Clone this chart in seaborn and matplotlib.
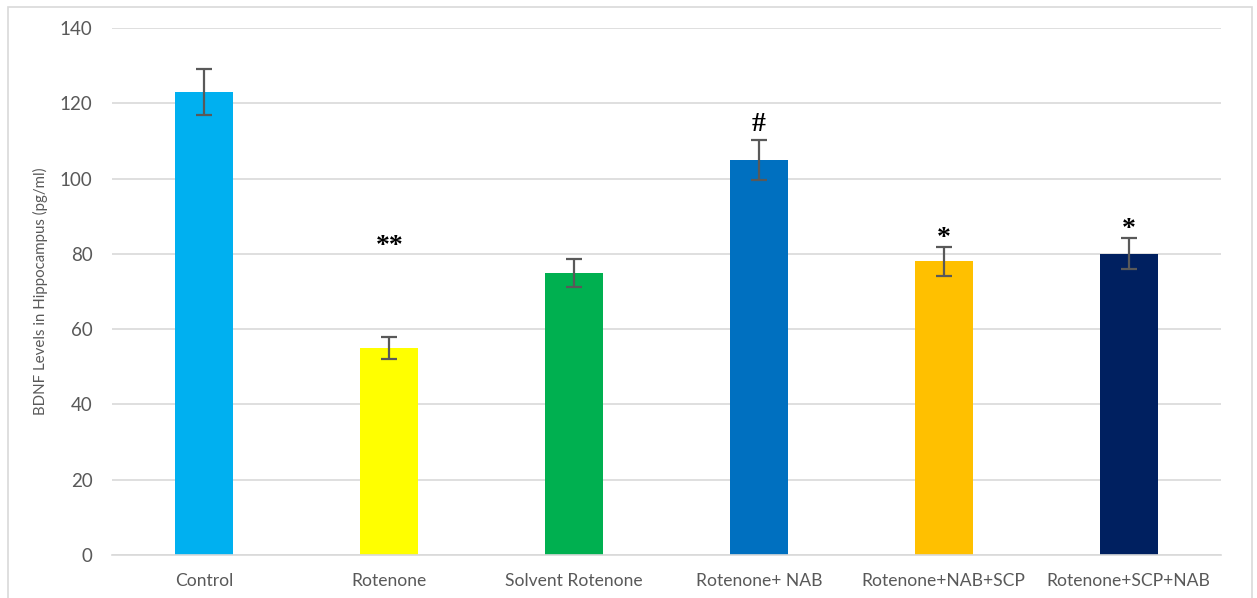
import matplotlib
matplotlib.use("Agg")
import matplotlib.pyplot as plt
import seaborn as sns
import pandas as pd
from matplotlib.patches import Rectangle

categories = ["Control", "Rotenone", "Solvent Rotenone", "Rotenone+ NAB",
              "Rotenone+NAB+SCP", "Rotenone+SCP+NAB"]
values = [123, 55, 75, 105, 78, 80]
errors = [6.1, 2.8, 3.7, 5.3, 3.9, 4.1]
colors = ["#00B0F0", "#FFFF00", "#00B050", "#0070C0", "#FFC000", "#002060"]
marks = ["", "**", "", "#", "*", "*"]
mark_y = [0, 80.2, 0, 112.6, 82.4, 84.7]
yticks = [0, 20, 40, 60, 80, 100, 120, 140]

sns.set_theme(style="white")
plt.rcParams['font.family'] = ['Lato', 'DejaVu Sans']

fig = plt.figure(figsize=(12.57, 5.98), dpi=100)
ax = fig.add_axes([112/1257, 1-555/598, (1221-112)/1257, (555-28)/598])

df = pd.DataFrame({"cat": categories, "val": values})
sns.barplot(data=df, x="cat", y="val", hue="cat", palette=colors,
            width=0.314, legend=False, ax=ax, saturation=1, errorbar=None,
            linewidth=0)

ax.errorbar(range(len(categories)), values, yerr=errors, fmt="none",
            ecolor="#595959", elinewidth=1.6, capsize=6, capthick=1.6, zorder=5)

for i, (m, y) in enumerate(zip(marks, mark_y)):
    if m:
        ax.text(i, y, m, ha="center", va="baseline", fontsize=20,
                family="Liberation Serif", fontweight="bold", color="black")

ax.set_ylim(0, 140)
ax.set_xlim(-0.5, len(categories) - 0.5)
ax.set_yticks(yticks)
ax.yaxis.grid(True, color="#D9D9D9", linewidth=1.2)
ax.set_axisbelow(True)
for s in ["top", "right", "left"]:
    ax.spines[s].set_visible(False)
ax.spines["bottom"].set_color("#D9D9D9")
ax.spines["bottom"].set_linewidth(1.2)
ax.tick_params(axis="y", length=0, pad=14, labelsize=13.5, labelcolor="#595959")
ax.tick_params(axis="x", length=0, pad=13, labelsize=12.6, labelcolor="#595959")
ax.set_xlabel("")
ax.set_ylabel("BDNF Levels in Hippocampus (pg/ml)", fontsize=10.8, color="#595959")
ax.yaxis.set_label_coords(-0.0577, 0.5)

fig.patches.append(Rectangle((8/1257, -0.1), (1252-8)/1257, 1.1 - 7/598,
                             transform=fig.transFigure, fill=False,
                             edgecolor="#D9D9D9", linewidth=1.2))

fig.savefig("out.png", dpi=100)
